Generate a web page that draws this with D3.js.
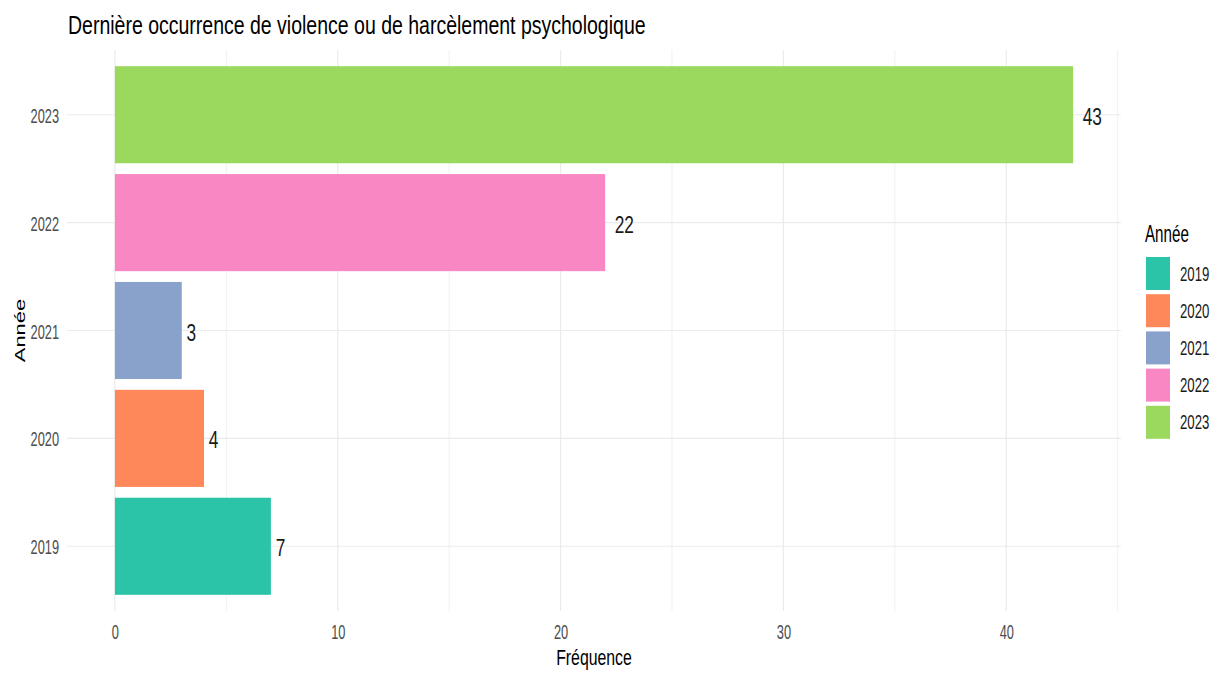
<!DOCTYPE html>
<html>
<head>
<meta charset="utf-8">
<script src="https://cdn.jsdelivr.net/npm/d3@7"></script>
<style>
  html, body { margin: 0; padding: 0; background: #ffffff; }
  svg { display: block; font-family: "Liberation Sans", Arial, sans-serif; }
</style>
</head>
<body>
<svg id="chart" width="1217" height="673"></svg>
<script>
// Data
const years = ["2019", "2020", "2021", "2022", "2023"];
const counts = [7, 4, 3, 22, 43];
const colors = ["#2bc4a9", "#fe885a", "#89a2cb", "#f887c4", "#9ad95d"];
const xTicks = [0, 10, 20, 30, 40];
const xMinor = [5, 15, 25, 35, 45];

const titleText = "Dernière occurrence de violence ou de harcèlement psychologique";
const xTitle = "Fréquence";
const yTitle = "Année";
const legendTitle = "Année";

const rows = years.map((y, i) => ({ year: y, n: counts[i], color: colors[i] }));

const svg = d3.select("#chart");
const panel = { left: 67, right: 1121, top: 50, bottom: 611 };

// Horizontal squeeze applied to all lettering
const SX = 0.64;

const maxN = d3.max(counts);
const pad = maxN * 0.05;
const x = d3.scaleLinear().domain([-pad, maxN + pad]).range([panel.left, panel.right]);
const y = d3.scaleBand()
  .domain(years.slice().reverse())
  .range([panel.top, panel.bottom])
  .paddingInner(0.1)
  .paddingOuter(0.15);

// Draw text squeezed horizontally around its anchor point
function squeezed(g, str, px, py, opts) {
  const s = opts.sx || SX;
  const t = g.append("text")
    .attr("transform", `translate(${px},${py}) ${opts.rotate ? "rotate(-90)" : ""} scale(${opts.rotate ? 1 : s},${opts.rotate ? s : 1})`)
    .attr("text-anchor", opts.anchor || "start")
    .attr("font-size", opts.size)
    .attr("fill", opts.fill || "#000")
    .text(str);
  return t;
}

// Grid
const grid = svg.append("g");
grid.selectAll("line.minor").data(xMinor).join("line")
  .attr("x1", d => x(d)).attr("x2", d => x(d))
  .attr("y1", panel.top).attr("y2", panel.bottom)
  .attr("stroke", "#f0f0f0").attr("stroke-width", 1);
grid.selectAll("line.majorx").data(xTicks).join("line")
  .attr("x1", d => x(d)).attr("x2", d => x(d))
  .attr("y1", panel.top).attr("y2", panel.bottom)
  .attr("stroke", "#ebebeb").attr("stroke-width", 1.2);
grid.selectAll("line.majory").data(years).join("line")
  .attr("x1", panel.left).attr("x2", panel.right)
  .attr("y1", d => y(d) + y.bandwidth() / 2).attr("y2", d => y(d) + y.bandwidth() / 2)
  .attr("stroke", "#ebebeb").attr("stroke-width", 1.2);

// Bars
svg.append("g").selectAll("rect").data(rows).join("rect")
  .attr("x", x(0))
  .attr("y", d => y(d.year))
  .attr("width", d => x(d.n) - x(0))
  .attr("height", y.bandwidth())
  .attr("fill", d => d.color);

// Value labels, pushed right of the bar end by half their own width
const labels = svg.append("g");
const labelSX = 0.72;
rows.forEach(d => {
  const cy = y(d.year) + y.bandwidth() / 2 + 10;
  const t = squeezed(labels, String(d.n), x(d.n), cy, { size: 24, sx: labelSX, fill: "#1a1a1a" });
  const w = t.node().getComputedTextLength() * labelSX;
  t.attr("transform", `translate(${x(d.n) + w * 0.5},${cy}) scale(${labelSX},1)`);
});

// Axes built with d3, then lettering restyled
const xAxis = svg.append("g")
  .attr("transform", `translate(0,${panel.bottom})`)
  .call(d3.axisBottom(x).tickValues(xTicks).tickSize(0).tickPadding(0));
xAxis.select(".domain").remove();
xAxis.selectAll(".tick text").each(function (d) {
  const g = d3.select(this.parentNode);
  d3.select(this).remove();
  squeezed(g, String(d), 0, 28, { size: 20, anchor: "middle", fill: "#4d4d4d" });
});

const yAxis = svg.append("g")
  .attr("transform", `translate(${panel.left},0)`)
  .call(d3.axisLeft(y).tickSize(0).tickPadding(0));
yAxis.select(".domain").remove();
yAxis.selectAll(".tick text").each(function (d) {
  const g = d3.select(this.parentNode);
  d3.select(this).remove();
  squeezed(g, String(d), -8, 8, { size: 20, anchor: "end", fill: "#4d4d4d" });
});

// Titles
const titleG = svg.append("g");
const tt = squeezed(titleG, titleText, 68, 34, { size: 25, sx: 1 });
const natural = tt.node().getComputedTextLength();
tt.attr("transform", `translate(68,34) scale(${578 / natural},1)`);

squeezed(titleG, xTitle, (panel.left + panel.right) / 2, 665, { size: 22, anchor: "middle", sx: 0.72 });
squeezed(titleG, yTitle, 25, (panel.top + panel.bottom) / 2, { size: 22, anchor: "middle", rotate: true, sx: 0.64 });

// Legend
const legend = svg.append("g");
squeezed(legend, legendTitle, 1145, 242, { size: 23, sx: 0.66 });
const keyH = 33, keyW = 24, pitch = 37.2, keyTop = 257;
rows.forEach((d, i) => {
  legend.append("rect")
    .attr("x", 1146).attr("y", keyTop + i * pitch)
    .attr("width", keyW).attr("height", keyH)
    .attr("fill", d.color);
  squeezed(legend, d.year, 1180, keyTop + i * pitch + keyH / 2 + 7, { size: 20, sx: 0.66, fill: "#1a1a1a" });
});
</script>
</body>
</html>
